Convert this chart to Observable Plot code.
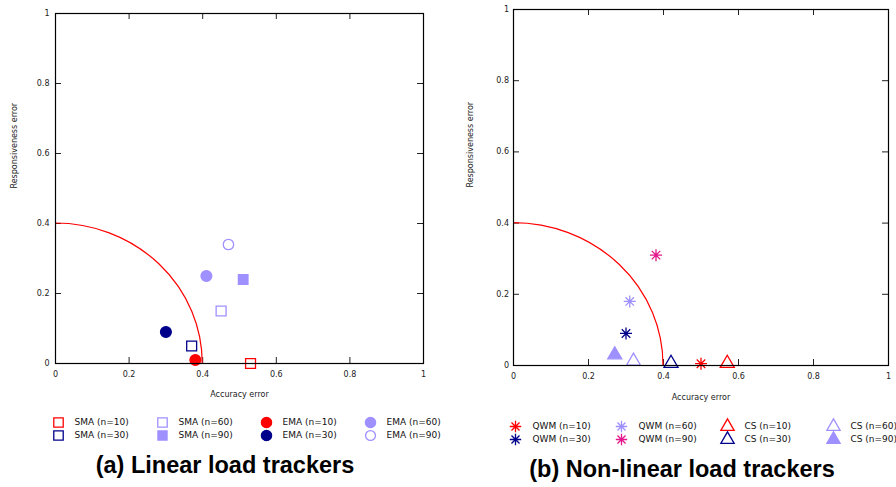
<!DOCTYPE html>
<html>
<head>
<meta charset="utf-8">
<script src="https://cdn.jsdelivr.net/npm/d3@7"></script>
<script src="https://cdn.jsdelivr.net/npm/@observablehq/plot@0.6"></script>
<style>
  html, body { margin: 0; padding: 0; background: #fff; }
  #chart { position: relative; width: 896px; height: 487px; overflow: hidden; background: #fff; font-family: "DejaVu Sans", sans-serif; }
  #chart svg { position: absolute; overflow: visible; }
  .title { position: absolute; font-family: "Liberation Sans", Arial, sans-serif; font-weight: bold; font-size: 23.5px; line-height: 24px; white-space: nowrap; text-align: center; width: 400px; color: #000; }
</style>
</head>
<body>
<div id="chart"></div>
<script>
// ---------- data ----------
const axisTicks = [0, 0.2, 0.4, 0.6, 0.8, 1];
const thresholdRadius = 0.4;

const linearNames = ["SMA (n=10)", "SMA (n=30)", "SMA (n=60)", "SMA (n=90)", "EMA (n=10)", "EMA (n=30)", "EMA (n=60)", "EMA (n=90)"];
const linearAccuracy = [0.53, 0.37, 0.45, 0.51, 0.38, 0.30, 0.41, 0.47];
const linearResponsiveness = [0.0, 0.05, 0.15, 0.24, 0.01, 0.09, 0.25, 0.34];

const nonlinearNames = ["QWM (n=10)", "QWM (n=30)", "QWM (n=60)", "QWM (n=90)", "CS (n=10)", "CS (n=30)", "CS (n=60)", "CS (n=90)"];
const nonlinearAccuracy = [0.50, 0.30, 0.31, 0.38, 0.57, 0.42, 0.32, 0.27];
const nonlinearResponsiveness = [0.005, 0.09, 0.18, 0.31, 0.006, 0.006, 0.012, 0.03];

// ---------- styles ----------
const RED = "#ff0000", NAVY = "#00008b", LILAC = "#9f90ff", PINK = "#e4178c";
const asterisk8 = {
  draw(context, size) {
    const r = Math.sqrt(size / Math.PI);
    for (let k = 0; k < 4; k++) {
      const a = k * Math.PI / 4, dx = r * Math.cos(a), dy = r * Math.sin(a);
      context.moveTo(-dx, -dy); context.lineTo(dx, dy);
    }
  }
};
const linearColors = [RED, NAVY, LILAC, LILAC, RED, NAVY, LILAC, LILAC];
const linearSymbols = ["square", "square", "square", "square", "circle", "circle", "circle", "circle"];
const linearFilled = [false, false, false, true, true, true, true, false];
const linearSizes = [5.6, 5.6, 5.6, 5.4, 5.4, 5.4, 5.4, 5.2];

const nonlinearColors = [RED, NAVY, LILAC, PINK, RED, NAVY, LILAC, LILAC];
const nonlinearSymbols = [asterisk8, asterisk8, asterisk8, asterisk8, "triangle", "triangle", "triangle", "triangle"];
const nonlinearFilled = [false, false, false, false, false, false, false, true];
const nonlinearSizes = [6, 6, 6, 6, 5.2, 5.2, 5.2, 5.2];

const chart = document.getElementById("chart");
const fmt = d3.format("~g");

function symbolMarks(idx, xs, ys, colors, symbols, filled, sizes) {
  return idx.map(i => Plot.dot([i], {
    x: j => xs[j],
    y: j => ys[j],
    symbol: symbols[i],
    r: sizes[i],
    stroke: colors[i],
    strokeWidth: 1.3,
    fill: filled[i] ? colors[i] : "none"
  }));
}

function panel({left, top, width, height, ml, mr, mt, mb, xs, ys, colors, symbols, filled, sizes, xLabelDy, yLabelDx, yTickDx}) {
  const ph = height - mt - mb, pw = width - ml - mr;
  const idx = d3.range(xs.length);
  const arc = (index, scales, values, dims) => {
    const sx = typeof scales.x === "function" ? scales.x : d3.scaleLinear([0, 1], [dims.marginLeft, dims.width - dims.marginRight]);
    const sy = typeof scales.y === "function" ? scales.y : d3.scaleLinear([0, 1], [dims.height - dims.marginBottom, dims.marginTop]);
    return d3.create("svg:path")
      .attr("d", `M${sx(0)},${sy(thresholdRadius)} A${sx(thresholdRadius) - sx(0)},${sy(0) - sy(thresholdRadius)} 0 0 1 ${sx(thresholdRadius)},${sy(0)}`)
      .attr("fill", "none").attr("stroke", RED).attr("stroke-width", 1.2).node();
  };
  const svg = Plot.plot({
    width, height,
    marginLeft: ml, marginRight: mr, marginTop: mt, marginBottom: mb,
    style: {fontFamily: "DejaVu Sans, sans-serif", fontSize: "8px", color: "#222", background: "transparent", overflow: "visible"},
    x: {domain: [0, 1], axis: null},
    y: {domain: [0, 1], axis: null},
    marks: [
      Plot.tickX(axisTicks, {x: d => d, insetTop: ph - 6, stroke: "#222"}),
      Plot.tickX(axisTicks, {x: d => d, insetBottom: ph - 6, stroke: "#222"}),
      Plot.tickY(axisTicks, {y: d => d, insetRight: pw - 6, stroke: "#222"}),
      Plot.tickY(axisTicks, {y: d => d, insetLeft: pw - 6, stroke: "#222"}),
      Plot.text(axisTicks, {x: d => d, frameAnchor: "bottom", dy: 13, text: fmt, fill: "#222"}),
      Plot.text(axisTicks, {y: d => d, frameAnchor: "left", dx: yTickDx, textAnchor: "end", text: fmt, fill: "#222"}),
      Plot.text(["Accuracy error"], {frameAnchor: "bottom", dy: xLabelDy, text: d => d, fill: "#222"}),
      Plot.text(["Responsiveness error"], {frameAnchor: "left", dx: yLabelDx, rotate: -90, text: d => d, fill: "#222"}),
      arc,
      ...symbolMarks(idx, xs, ys, colors, symbols, filled, sizes),
      Plot.frame({stroke: "#000", strokeWidth: 1.2})
    ]
  });
  svg.style.left = left + "px";
  svg.style.top = top + "px";
  chart.appendChild(svg);
}

function legend({left, top, width, height, names, colors, symbols, filled, sizes, xRange, yRange, dx}) {
  const idx = d3.range(names.length);
  const col = i => Math.floor(i / 2), row = i => i % 2;
  const svg = Plot.plot({
    width, height, margin: 0,
    style: {fontFamily: "DejaVu Sans, sans-serif", fontSize: "9px", color: "#111", background: "transparent", overflow: "visible"},
    x: {type: "point", domain: [0, 1, 2, 3], range: xRange, padding: 0, axis: null},
    y: {type: "point", domain: [0, 1], range: yRange, padding: 0, axis: null},
    marks: [
      ...idx.map(i => Plot.dot([i], {x: col, y: row, symbol: symbols[i], r: sizes[i] * 0.95, stroke: colors[i], strokeWidth: 1.3, fill: filled[i] ? colors[i] : "none"})),
      Plot.text(idx, {x: col, y: row, text: i => names[i], textAnchor: "start", dx, fill: "#111"})
    ]
  });
  svg.style.left = left + "px";
  svg.style.top = top + "px";
  chart.appendChild(svg);
}

panel({left: 0, top: 0, width: 450, height: 400, ml: 55, mr: 27, mt: 13, mb: 37,
  xs: linearAccuracy, ys: linearResponsiveness, colors: linearColors, symbols: linearSymbols, filled: linearFilled, sizes: linearSizes,
  xLabelDy: 33, yLabelDx: -41, yTickDx: -6});
panel({left: 450, top: 0, width: 446, height: 400, ml: 63, mr: 8, mt: 9, mb: 35,
  xs: nonlinearAccuracy, ys: nonlinearResponsiveness, colors: nonlinearColors, symbols: nonlinearSymbols, filled: nonlinearFilled, sizes: nonlinearSizes,
  xLabelDy: 34, yLabelDx: -43, yTickDx: -4.5});

legend({left: 0, top: 405, width: 450, height: 40, names: linearNames, colors: linearColors, symbols: linearSymbols, filled: linearFilled, sizes: linearSizes,
  xRange: [57, 370], yRange: [17.3, 30.3], dx: 16});
legend({left: 450, top: 405, width: 446, height: 40, names: nonlinearNames, colors: nonlinearColors, symbols: nonlinearSymbols, filled: nonlinearFilled, sizes: nonlinearSizes,
  xRange: [64, 384.3], yRange: [21, 34.3], dx: 17});

const t1 = document.createElement("div");
t1.className = "title"; t1.textContent = "(a) Linear load trackers";
t1.style.left = (225 - 200) + "px"; t1.style.top = "453px";
chart.appendChild(t1);
const t2 = document.createElement("div");
t2.className = "title"; t2.textContent = "(b) Non-linear load trackers";
t2.style.left = (682 - 200) + "px"; t2.style.top = "457px";
chart.appendChild(t2);
</script>
</body>
</html>
